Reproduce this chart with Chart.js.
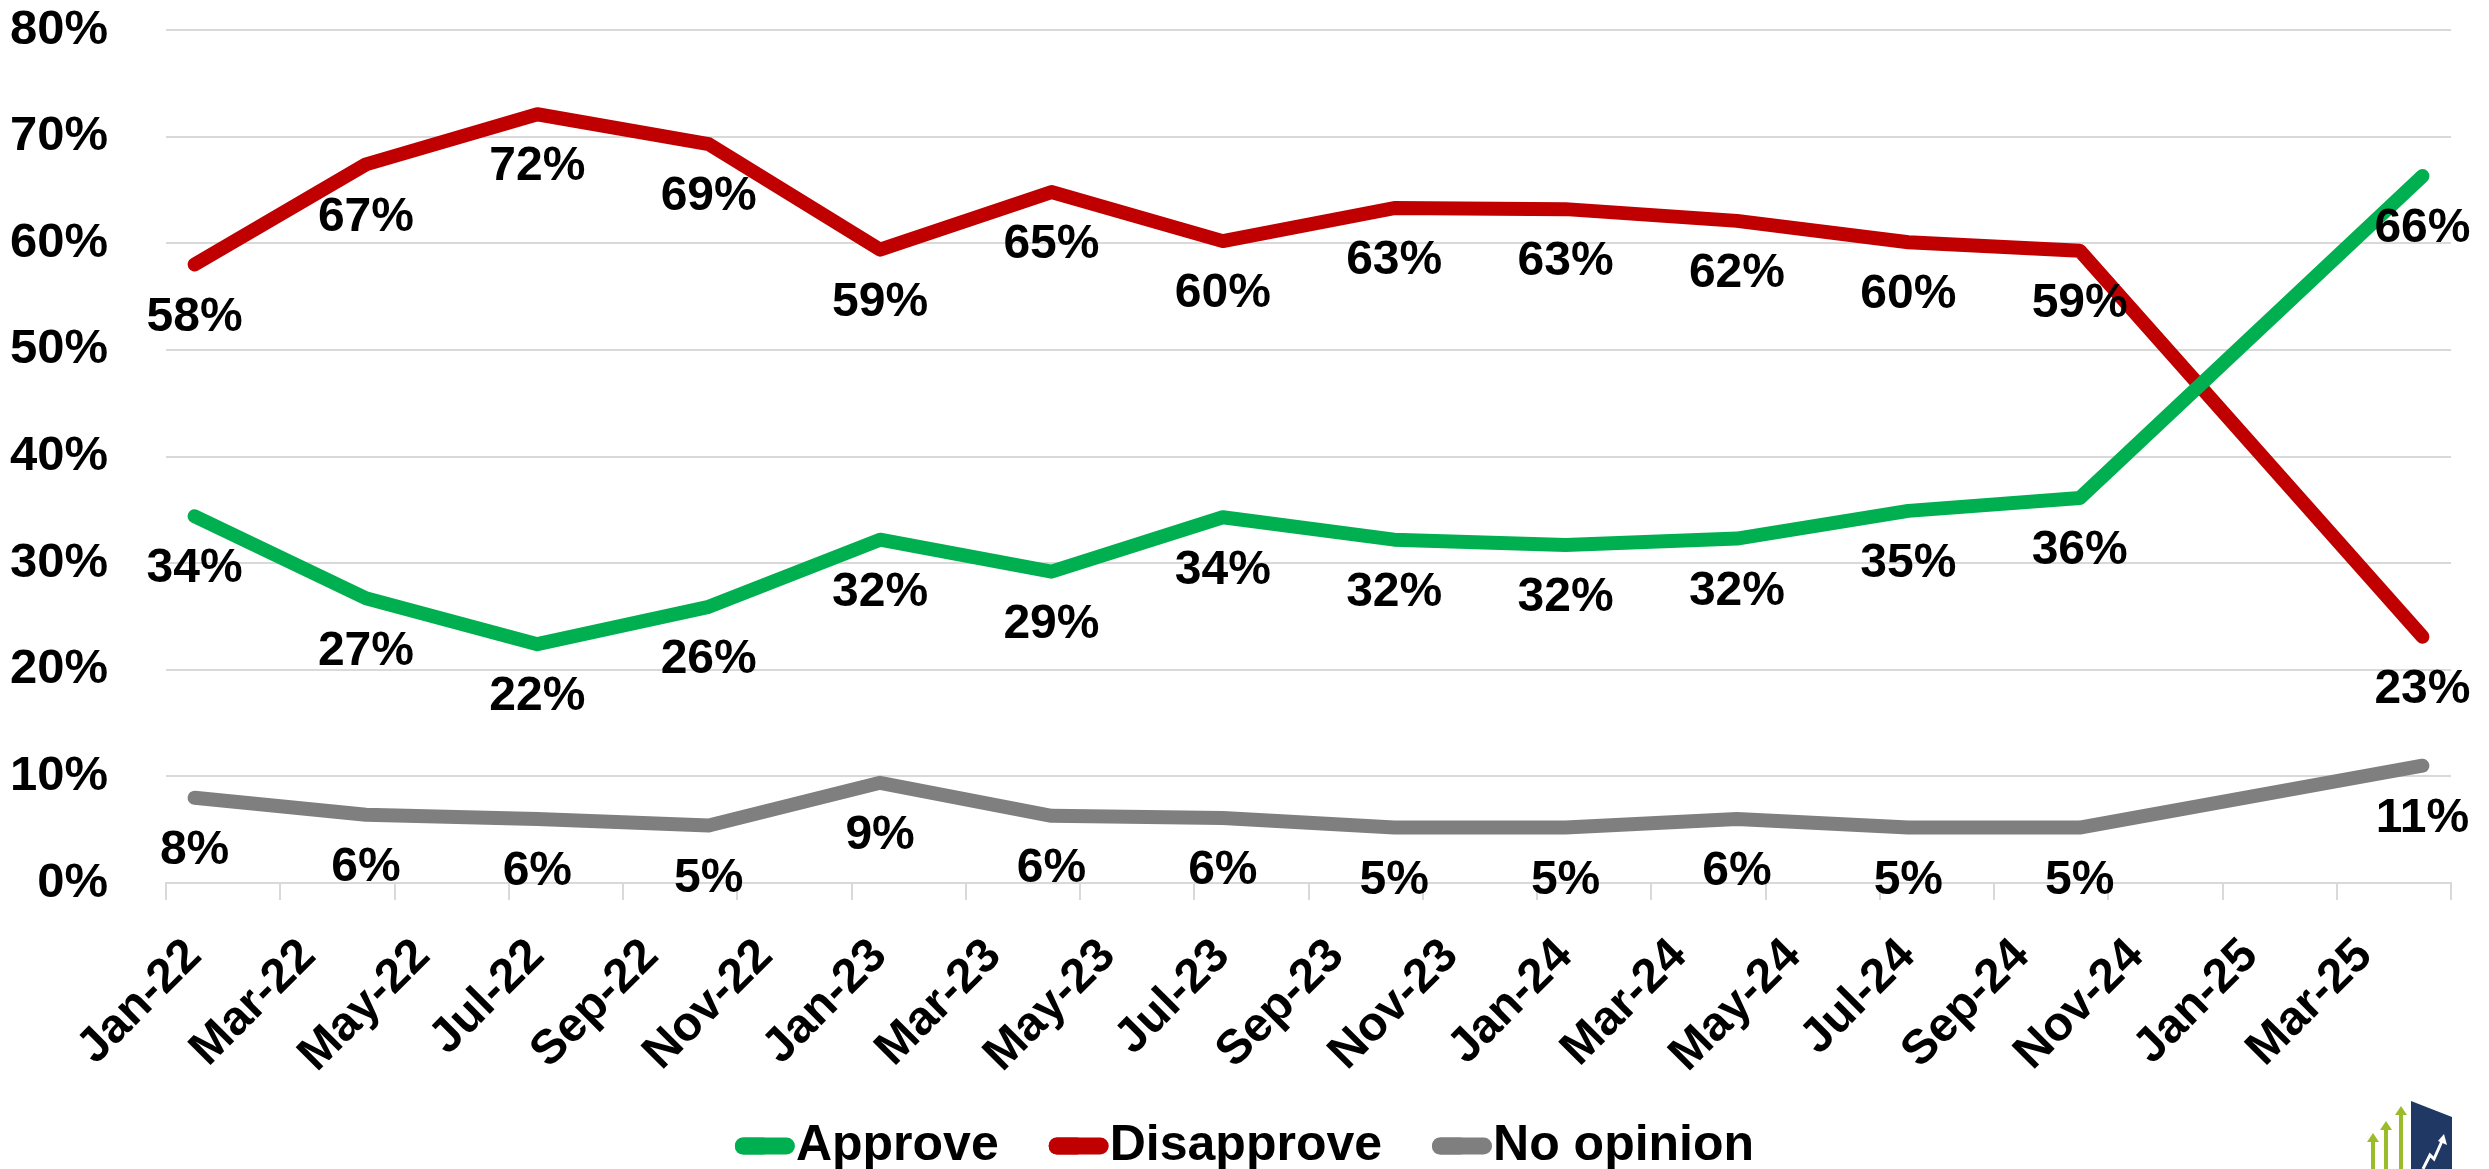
<!DOCTYPE html>
<html>
<head>
<meta charset="utf-8">
<script src="https://cdn.jsdelivr.net/npm/chart.js@4.4.1/dist/chart.umd.min.js"></script>
<style>
  html, body { margin: 0; padding: 0; background: #fff; }
  #wrap { width: 2489px; height: 1169px; }
</style>
</head>
<body>
<div id="wrap"><canvas id="chart"></canvas></div>
<script>
// survey dates (one point per quarter, Jan-25 missing)
const surveyDates = ['Jan-22', 'Apr-22', 'Jul-22', 'Oct-22', 'Jan-23', 'Apr-23', 'Jul-23',
    'Oct-23', 'Jan-24', 'Apr-24', 'Jul-24', 'Oct-24', 'Apr-25'];

const approve = [34.4, 26.7, 22.4, 25.9, 32.2, 29.2, 34.3, 32.2, 31.7, 32.3, 34.9, 36.1, 66.3];
const disapprove = [58.0, 67.4, 72.1, 69.3, 59.4, 64.8, 60.2, 63.3, 63.2, 62.1, 60.1, 59.3, 23.1];
const noOpinion = [8.0, 6.4, 6.0, 5.4, 9.4, 6.3, 6.1, 5.2, 5.2, 6.0, 5.2, 5.2, 11.0];

// axis labels, every second month
const tickLabels = ['Jan-22', 'Mar-22', 'May-22', 'Jul-22', 'Sep-22', 'Nov-22', 'Jan-23', 'Mar-23',
    'May-23', 'Jul-23', 'Sep-23', 'Nov-23', 'Jan-24', 'Mar-24', 'May-24', 'Jul-24', 'Sep-24',
    'Nov-24', 'Jan-25', 'Mar-25'];
const yTicks = [0, 10, 20, 30, 40, 50, 60, 70, 80];

const monthNames = ['Jan', 'Feb', 'Mar', 'Apr', 'May', 'Jun', 'Jul', 'Aug', 'Sep', 'Oct', 'Nov', 'Dec'];

// months since Jan-22
function monthIndex(label) {
    const parts = label.split('-');
    return monthNames.indexOf(parts[0]) + (parseInt(parts[1]) - 22) * 12;
}

function toPoints(values) {
    return values.map(function (v, i) {
        return { x: monthIndex(surveyDates[i]), y: v };
    });
}

const FONT = 'Liberation Sans, Arial, sans-serif';

const valueLabels = {
    id: 'valueLabels',
    afterDatasetsDraw(chart) {
        const ctx = chart.ctx;
        ctx.save();
        ctx.font = 'bold 48px ' + FONT;
        ctx.fillStyle = '#000';
        ctx.textAlign = 'center';
        ctx.textBaseline = 'middle';
        chart.data.datasets.forEach(function (ds, di) {
            const meta = chart.getDatasetMeta(di);
            meta.data.forEach(function (pt, i) {
                ctx.fillText(Math.round(ds.data[i].y) + '%', pt.x, pt.y + 53);
            });
        });
        ctx.restore();
    }
};

// excel style legend keys: a thick line that runs right up to the text
const legendKeys = {
    id: 'legendKeys',
    afterDraw(chart) {
        const legend = chart.legend;
        if (!legend || !legend.legendHitBoxes) return;
        const ctx = chart.ctx;
        const fontSize = legend.options.labels.font.size;
        const boxWidth = legend.options.labels.boxWidth;
        ctx.save();
        legend.legendHitBoxes.forEach(function (hb, i) {
            const item = legend.legendItems[i];
            const cy = hb.top + fontSize / 2;
            ctx.fillStyle = item.fillStyle;
            ctx.beginPath();
            ctx.roundRect(hb.left, cy - 8.5, boxWidth + fontSize / 2 - 1, 17, 8.5);
            ctx.fill();
        });
        ctx.restore();
    }
};

// small logo in the lower right corner
const logo = {
    id: 'logo',
    afterDraw(chart) {
        const ctx = chart.ctx;
        const r = chart.width - 37;
        const b = chart.height;
        ctx.save();
        ctx.fillStyle = '#1f3864';
        ctx.beginPath();
        ctx.moveTo(r - 41, b - 68);
        ctx.lineTo(r, b - 52);
        ctx.lineTo(r, b);
        ctx.lineTo(r - 41, b);
        ctx.closePath();
        ctx.fill();
        ctx.fillStyle = '#9bbb2a';
        [[r - 51, 63], [r - 66, 48], [r - 79, 36]].forEach(function (a) {
            const x = a[0], h = a[1];
            ctx.fillRect(x - 2, b - h + 8, 4, h - 8);
            ctx.beginPath();
            ctx.moveTo(x - 6, b - h + 9);
            ctx.lineTo(x + 6, b - h + 9);
            ctx.lineTo(x, b - h);
            ctx.closePath();
            ctx.fill();
        });
        ctx.strokeStyle = '#fff';
        ctx.lineWidth = 3;
        ctx.beginPath();
        ctx.moveTo(r - 29, b);
        ctx.lineTo(r - 22, b - 14);
        ctx.lineTo(r - 18, b - 10);
        ctx.lineTo(r - 10, b - 28);
        ctx.stroke();
        ctx.fillStyle = '#fff';
        ctx.beginPath();
        ctx.moveTo(r - 14, b - 28);
        ctx.lineTo(r - 5, b - 24);
        ctx.lineTo(r - 8, b - 35);
        ctx.closePath();
        ctx.fill();
        ctx.restore();
    }
};

function lineDataset(label, values, color) {
    return {
        label: label,
        data: toPoints(values),
        borderColor: color,
        backgroundColor: color,
        borderWidth: 14,
        borderCapStyle: 'round',
        borderJoinStyle: 'round',
        pointRadius: 0,
        tension: 0
    };
}

const ctx = document.querySelector('#chart').getContext('2d');
const myChart = new Chart(ctx, {
    type: 'line',
    data: {
        datasets: [
            lineDataset('Approve', approve, '#00b050'),
            lineDataset('Disapprove', disapprove, '#c00000'),
            lineDataset('No opinion', noOpinion, '#7f7f7f')
        ]
    },
    options: {
        responsive: true,
        maintainAspectRatio: false,
        animation: false,
        layout: {
            padding: { left: 0, right: 0, top: 30, bottom: -12 }
        },
        scales: {
            x: {
                type: 'linear',
                min: -0.5,
                max: 39.5,
                afterBuildTicks: function (scale) {
                    const ticks = [];
                    for (let i = 0; i <= tickLabels.length; i++) {
                        ticks.push({ value: i * 2 - 0.5 });
                    }
                    scale.ticks = ticks;
                },
                afterFit: function (scale) {
                    scale.height = 188;
                    scale.paddingLeft = 0;
                    scale.paddingRight = 38;
                },
                grid: {
                    drawOnChartArea: false,
                    drawTicks: true,
                    tickLength: 17,
                    color: '#d9d9d9',
                    lineWidth: 2
                },
                border: { color: '#d9d9d9', width: 2 },
                ticks: {
                    autoSkip: false,
                    minRotation: 45,
                    maxRotation: 45,
                    labelOffset: 28,
                    padding: 28,
                    color: '#000',
                    font: { family: FONT, size: 48, weight: 'bold' },
                    callback: function (val, index) {
                        return tickLabels[index] || '';
                    }
                }
            },
            y: {
                min: 0,
                max: 80,
                afterBuildTicks: function (scale) {
                    scale.ticks = yTicks.map(function (v) { return { value: v }; });
                },
                afterFit: function (scale) {
                    scale.width = 166;
                    scale.paddingTop = 0;
                    scale.paddingBottom = 0;
                },
                grid: {
                    color: '#d9d9d9',
                    lineWidth: 2,
                    drawTicks: false
                },
                border: { display: false },
                ticks: {
                    padding: 58,
                    color: '#000',
                    font: { family: FONT, size: 49, weight: 'bold' },
                    callback: function (val) {
                        return val + '%';
                    }
                }
            }
        },
        plugins: {
            legend: {
                position: 'bottom',
                labels: {
                    color: '#000',
                    font: { family: FONT, size: 50, weight: 'bold' },
                    boxWidth: 36,
                    boxHeight: 17,
                    padding: 50,
                    generateLabels: function (chart) {
                        const items = Chart.defaults.plugins.legend.labels.generateLabels(chart);
                        return items.map(function (it) {
                            it.lineWidth = 0;
                            it.borderRadius = 8;
                            return it;
                        });
                    }
                }
            },
            tooltip: { enabled: false }
        }
    },
    plugins: [valueLabels, legendKeys, logo]
});
</script>
</body>
</html>
